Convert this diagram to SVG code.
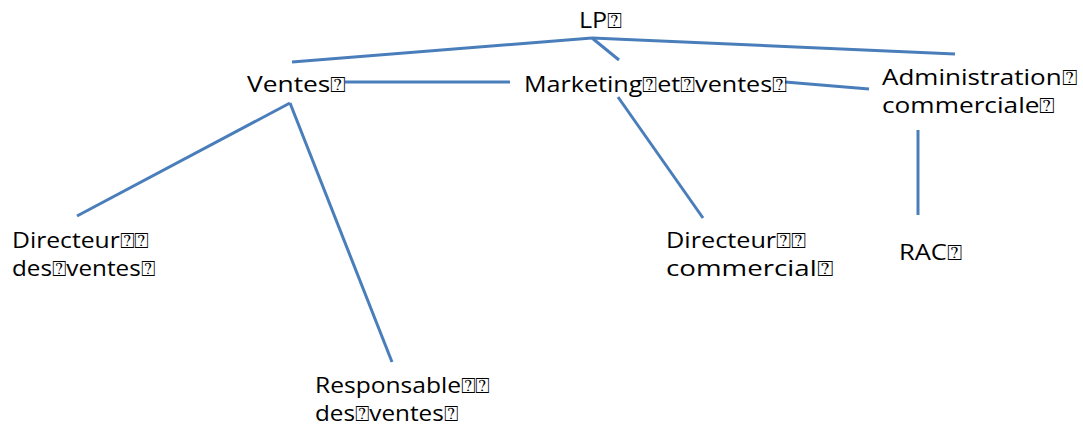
<svg xmlns="http://www.w3.org/2000/svg" width="1083" height="425" viewBox="0 0 1083 425">
<style>
.t{font-family:"Open Sans","Noto Sans","DejaVu Sans",sans-serif;font-size:22px;fill:#000}
.c line{stroke:#4A7EBB;stroke-width:3;stroke-linecap:butt}
</style>
<rect width="1083" height="425" fill="#fff"/>
<g class="c" id="connectors">
<line x1="592" y1="38" x2="292" y2="62"/>
<line x1="592" y1="38" x2="955" y2="54"/>
<line x1="592" y1="38" x2="619" y2="60"/>
<line x1="345" y1="82" x2="510" y2="82"/>
<line x1="785" y1="82" x2="869" y2="89"/>
<line x1="290" y1="103" x2="77" y2="216"/>
<line x1="290" y1="103" x2="392" y2="362"/>
<line x1="618" y1="97" x2="703" y2="218"/>
<line x1="918" y1="130" x2="918" y2="215"/>
</g>
<g id="lp"><text class="t" x="579" y="28" textLength="43" lengthAdjust="spacingAndGlyphs">LP⍰</text></g>
<g id="ventes"><text class="t" x="247" y="92" textLength="99" lengthAdjust="spacingAndGlyphs">Ventes⍰</text></g>
<g id="marketing"><text class="t" x="524" y="92" textLength="263" lengthAdjust="spacingAndGlyphs">Marketing⍰et⍰ventes⍰</text></g>
<g id="admin"><text class="t" x="882" y="85" textLength="195" lengthAdjust="spacingAndGlyphs">Administration⍰</text><text class="t" x="882" y="113" textLength="173" lengthAdjust="spacingAndGlyphs">commerciale⍰</text></g>
<g id="dirventes"><text class="t" x="12" y="248" textLength="137" lengthAdjust="spacingAndGlyphs">Directeur⍰⍰</text><text class="t" x="12" y="276" textLength="143" lengthAdjust="spacingAndGlyphs">des⍰ventes⍰</text></g>
<g id="dircom"><text class="t" x="666" y="248" textLength="140" lengthAdjust="spacingAndGlyphs">Directeur⍰⍰</text><text class="t" x="666" y="276" textLength="167" lengthAdjust="spacingAndGlyphs">commercial⍰</text></g>
<g id="rac"><text class="t" x="899" y="260" textLength="63" lengthAdjust="spacingAndGlyphs">RAC⍰</text></g>
<g id="resp"><text class="t" x="315" y="393" textLength="175" lengthAdjust="spacingAndGlyphs">Responsable⍰⍰</text><text class="t" x="315" y="421" textLength="143" lengthAdjust="spacingAndGlyphs">des⍰ventes⍰</text></g>
</svg>
